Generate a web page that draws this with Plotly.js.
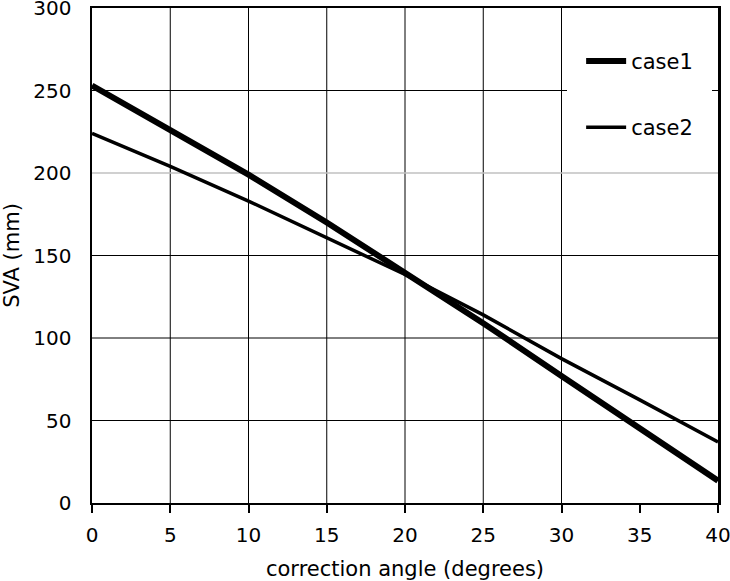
<!DOCTYPE html>
<html>
<head>
<meta charset="utf-8">
<script src="https://cdn.plot.ly/plotly-3.0.1.min.js"></script>
<style>
  html, body { margin: 0; padding: 0; background: #fff; }
  #chart { width: 730px; height: 581px; }
</style>
</head>
<body>
<div id="chart"></div>
<script>
// correction angle (degrees)
const angle = [0, 5, 10, 15, 20, 25, 30, 35, 40];
// SVA (mm)
const case1 = [253, 226.5, 199, 170, 140, 109, 77, 45.5, 13.5];
const case2 = [224, 204, 183, 161, 138.5, 114, 87.5, 62.5, 37];

const xTicks = [0, 5, 10, 15, 20, 25, 30, 35, 40];
const yTicks = [0, 50, 100, 150, 200, 250, 300];
// gridlines as they appear in the original (35 missing, 200 light)
const xGrid = [5, 10, 15, 20, 25, 30];
const yGrid = [50, 100, 150, 250];
const yGridLight = [200];

const font = "Verdana, 'DejaVu Sans', sans-serif";

const traces = [
  {
    x: angle,
    y: case1,
    type: "scatter",
    mode: "lines",
    name: "case1",
    legendgroup: "a",
    line: { color: "#000", width: 6 },
  },
  {
    x: angle,
    y: case2,
    type: "scatter",
    mode: "lines",
    name: "case2",
    legendgroup: "b",
    line: { color: "#000", width: 3.5 },
  },
];

const shapes = [];
xGrid.forEach((v) => {
  shapes.push({
    type: "line", layer: "below", xref: "x", yref: "paper",
    x0: v, x1: v, y0: 0, y1: 1,
    line: { color: "#000", width: 1 },
  });
});
yGrid.forEach((v) => {
  shapes.push({
    type: "line", layer: "below", xref: "paper", yref: "y",
    x0: 0, x1: 1, y0: v, y1: v,
    line: { color: "#000", width: 1 },
  });
});
yGridLight.forEach((v) => {
  shapes.push({
    type: "line", layer: "below", xref: "paper", yref: "y",
    x0: 0, x1: 1, y0: v, y1: v,
    line: { color: "#c0c0c0", width: 1.5 },
  });
});

const layout = {
  width: 730,
  height: 581,
  margin: { l: 92, r: 12, t: 8, b: 78 },
  paper_bgcolor: "#fff",
  plot_bgcolor: "#fff",
  font: { family: font, size: 20, color: "#000" },
  showlegend: true,
  legend: {
    x: 0.759,
    y: 0.962,
    xanchor: "left",
    yanchor: "top",
    bgcolor: "#fff",
    bordercolor: "#fff",
    borderwidth: 14,
    tracegroupgap: 36,
    itemwidth: 40,
    font: { family: font, size: 21, color: "#000" },
  },
  xaxis: {
    range: [0, 40],
    tickvals: xTicks,
    ticks: "outside",
    ticklen: 8,
    tickwidth: 2,
    tickcolor: "#000",
    ticklabelstandoff: 5,
    ticklabeloverflow: "allow",
    showgrid: false,
    zeroline: false,
    showline: true,
    linewidth: 2,
    linecolor: "#000",
    mirror: true,
    title: { text: "correction angle (degrees)", font: { size: 21 }, standoff: 18 },
  },
  yaxis: {
    range: [0, 300],
    tickvals: yTicks,
    ticks: "",
    ticklabelstandoff: 14,
    ticklabeloverflow: "allow",
    showgrid: false,
    zeroline: false,
    showline: true,
    linewidth: 2.5,
    linecolor: "#000",
    mirror: true,
    title: { text: "SVA (mm)", font: { size: 21 }, standoff: 11 },
  },
  shapes: shapes,
};

Plotly.newPlot("chart", traces, layout, { displayModeBar: false, staticPlot: true });
</script>
</body>
</html>
